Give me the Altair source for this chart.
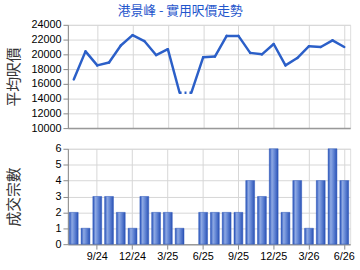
import altair as alt
import pandas as pd

months = ["7/24", "8/24", "9/24", "10/24", "11/24", "12/24",
          "1/25", "2/25", "3/25", "4/25", "5/25", "6/25",
          "7/25", "8/25", "9/25", "10/25", "11/25", "12/25",
          "1/26", "2/26", "3/26", "4/26", "5/26", "6/26"]
avg_price = [16600, 20400, 18500, 18900, 21200, 22600,
             21800, 19900, 20700, 14800, 14800, 19600,
             19700, 22500, 22500, 20200, 20000, 21400,
             18500, 19500, 21100, 21000, 21900, 21000]
# month with no transactions: price carried forward, drawn dotted
no_deal = [False] * 10 + [True] + [False] * 13
deals = [2, 1, 3, 3, 2, 1, 3, 2, 2, 1, 0, 2,
         2, 2, 2, 4, 3, 6, 2, 4, 1, 4, 6, 4]
tick_months = ["9/24", "12/24", "3/25", "6/25", "9/25", "12/25", "3/26", "6/26"]
price_ticks = [10000, 12000, 14000, 16000, 18000, 20000, 22000, 24000]
deal_ticks = [0, 1, 2, 3, 4, 5, 6]

FONT = "Liberation Sans, Noto Sans CJK TC"
CJK = "Noto Sans CJK TC, Liberation Sans"

df = pd.DataFrame({"month": months, "price": avg_price, "deals": deals})

seg_rows = []
for i in range(len(months) - 1):
    style = "dot" if no_deal[i + 1] else "solid"
    for j in (i, i + 1):
        seg_rows.append({"seg": i, "style": style, "month": months[j],
                         "price": avg_price[j]})
seg = pd.DataFrame(seg_rows)

grid_color = "#d6d6d6"


def xscale():
    return alt.Scale(domain=months, paddingInner=0.25, paddingOuter=0.125)


def top_x():
    return alt.X("month:N", sort=months, scale=xscale(),
                 axis=alt.Axis(values=tick_months, labels=False, ticks=False,
                               title=None, grid=True, gridColor=grid_color,
                               domainColor="#999999", domainWidth=1.5))


def top_y():
    return alt.Y("price:Q", scale=alt.Scale(domain=[10000, 24000], nice=False),
                 axis=alt.Axis(values=price_ticks, title="平均呎價", format="d",
                               grid=True, gridColor=grid_color,
                               titleFont=CJK, titleFontSize=15,
                               titleFontWeight="normal", titleColor="#333333",
                               titlePadding=10,
                               labelFont=FONT, labelFontSize=11))


line_solid = alt.Chart(seg).transform_filter("datum.style == 'solid'").mark_line(
    color="#2b5fc8", strokeWidth=2.5, strokeJoin="round", strokeCap="round"
).encode(x=top_x(), y=top_y(), detail="seg:N")

line_dot = alt.Chart(seg).transform_filter("datum.style == 'dot'").mark_line(
    color="#2b5fc8", strokeWidth=2.5, strokeDash=[2, 3]
).encode(x=top_x(), y=top_y(), detail="seg:N")

top = alt.layer(line_solid, line_dot).properties(width=287, height=105)

bar_grad = alt.Gradient(
    gradient="linear", x1=0, x2=1, y1=0, y2=0,
    stops=[alt.GradientStop(offset=0, color="#2550b8"),
           alt.GradientStop(offset=0.3, color="#8ea9e3"),
           alt.GradientStop(offset=0.55, color="#6a8cd8"),
           alt.GradientStop(offset=1, color="#2a52b5")])

bars = alt.Chart(df).transform_filter("datum.deals > 0").mark_bar(
    color=bar_grad, stroke="#2a55bb", strokeWidth=0.5
).encode(
    x=alt.X("month:N", sort=months, scale=xscale(),
            axis=alt.Axis(values=tick_months, title=None, labelAngle=0,
                          labelFont=FONT, labelFontSize=11,
                          grid=True, gridColor=grid_color,
                          domainColor="#999999", domainWidth=1.5)),
    y=alt.Y("deals:Q", scale=alt.Scale(domain=[0, 6], nice=False),
            axis=alt.Axis(values=deal_ticks, title="成交宗數", grid=True,
                          gridColor=grid_color,
                          titleFont=CJK, titleFontSize=15,
                          titleFontWeight="normal", titleColor="#333333",
                          titlePadding=34,
                          labelFont=FONT, labelFontSize=11)),
).properties(width=287, height=97)

chart = alt.vconcat(top, bars, spacing=8).properties(
    title=alt.TitleParams("港景峰 - 實用呎價走勢", font=CJK, fontSize=13,
                          fontWeight="normal", color="#1f56cc", anchor="middle",
                          offset=1),
    padding={"left": 5, "top": 2, "right": 5, "bottom": 5},
)

chart.save("out.html", embed_options={"renderer": "svg", "actions": False})
